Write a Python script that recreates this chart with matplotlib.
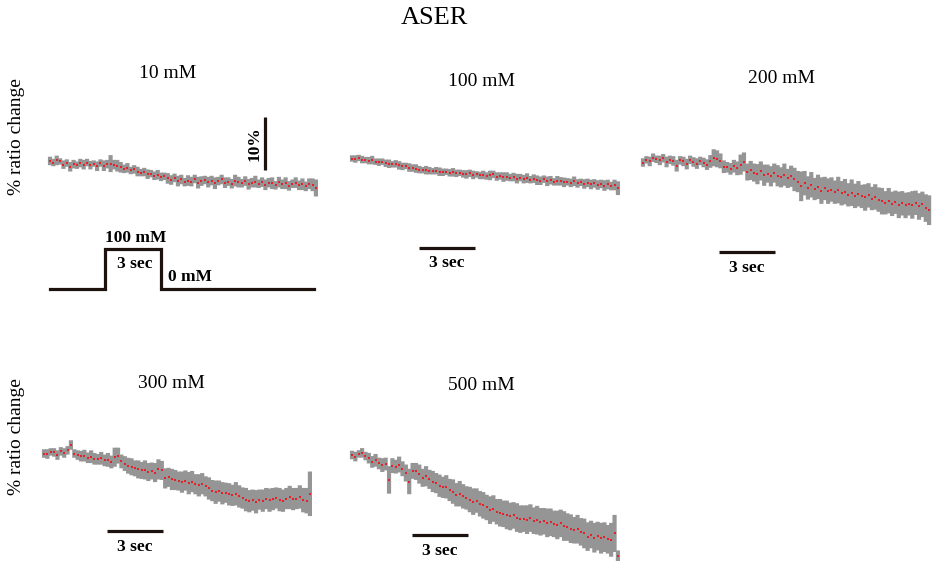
import matplotlib
matplotlib.use("Agg")
import matplotlib.pyplot as plt
import numpy as np

plt.rcParams['font.family'] = ['Liberation Serif', 'DejaVu Serif']

# ---------------- data (% ratio change, sampled every DT seconds) ----------------
DT = 0.18
titles = ["10 mM", "100 mM", "200 mM", "300 mM", "500 mM"]

mean_10 = [0.2, -0.1, 0.3, 0.1, -0.5, -0.2, -0.9, -0.4, -0.6, -0.2,
           -0.5, -0.1, -0.6, -0.3, -0.8, -0.2, -0.7, -0.4, -0.3, -0.5,
           -0.7, -1.0, -1.3, -1.1, -1.6, -1.4, -1.8, -2.0, -1.9, -2.3,
           -2.2, -2.6, -2.4, -2.8, -2.7, -3.1, -3.4, -3.0, -3.6, -3.3,
           -3.8, -3.5, -3.7, -3.2, -3.9, -3.6, -3.4, -3.8, -3.5, -4.0,
           -3.6, -3.3, -3.9, -3.7, -4.1, -3.5, -3.8, -4.0, -3.6, -4.2,
           -3.9, -3.7, -4.1, -3.8, -4.3, -3.9, -4.0, -4.4, -3.8, -4.2,
           -4.0, -4.5, -4.1, -3.9, -4.4, -4.2, -4.6, -4.1, -4.3, -4.9]
err_10 = [0.8, 0.7, 0.9, 0.6, 0.8, 0.7, 0.9, 0.8, 0.7, 0.8,
          0.9, 0.7, 0.8, 0.6, 0.9, 0.7, 1.0, 0.8, 1.6, 0.9,
          1.1, 1.0, 0.8, 0.9, 0.7, 0.8, 0.9, 0.7, 0.8, 0.9,
          0.7, 0.8, 0.9, 0.8, 0.7, 1.0, 0.9, 0.8, 1.0, 0.9,
          0.8, 1.0, 0.9, 0.8, 1.1, 0.9, 0.8, 1.0, 0.9, 1.1,
          0.8, 0.9, 1.0, 0.8, 0.9, 1.1, 1.0, 0.8, 0.9, 1.0,
          0.9, 1.1, 0.8, 0.9, 1.0, 0.9, 1.1, 0.8, 1.0, 0.9,
          1.1, 0.9, 0.8, 1.0, 0.9, 1.1, 0.9, 1.0, 1.2, 1.6]

mean_100 = [0.0, -0.1, 0.1, -0.2, -0.3, -0.4, -0.3, -0.6, -0.7, -0.6,
            -0.9, -1.0, -1.1, -1.0, -1.3, -1.5, -1.4, -1.7, -1.8, -1.9,
            -2.1, -2.2, -2.2, -2.3, -2.4, -2.3, -2.5, -2.6, -2.5, -2.7,
            -2.6, -2.8, -2.7, -2.9, -3.0, -2.8, -3.1, -3.0, -3.2, -3.1,
            -3.3, -3.2, -3.0, -3.4, -3.3, -3.5, -3.4, -3.6, -3.5, -3.8,
            -3.6, -3.9, -3.7, -4.0, -3.8, -4.1, -4.2, -3.9, -4.3, -4.1,
            -4.4, -4.2, -4.3, -4.5, -4.4, -4.6, -4.3, -4.7, -4.5, -4.8,
            -4.6, -4.9, -4.7, -5.0, -4.8, -5.1, -4.9, -5.2, -5.0, -5.6]
err_100 = [0.6, 0.7, 0.6, 0.7, 0.6, 0.7, 0.8, 0.6, 0.7, 0.6,
           0.7, 0.8, 0.6, 0.7, 0.8, 0.7, 0.6, 0.8, 0.7, 0.8,
           0.7, 0.6, 0.8, 0.7, 0.6, 0.7, 0.8, 0.7, 0.6, 0.7,
           0.8, 0.7, 0.6, 0.7, 0.8, 0.7, 0.8, 0.6, 0.7, 0.8,
           0.7, 0.9, 0.7, 0.8, 0.7, 0.9, 0.8, 0.7, 0.8, 0.9,
           0.7, 0.8, 0.9, 0.7, 0.8, 0.9, 0.8, 0.7, 0.9, 0.8,
           0.7, 0.9, 0.8, 0.9, 0.7, 0.8, 0.9, 0.8, 0.7, 0.9,
           0.8, 0.9, 0.8, 0.9, 0.8, 1.0, 0.9, 0.8, 1.0, 1.3]

mean_200 = [0.0, 0.5, 0.2, 0.9, 0.6, 0.4, 0.8, 0.1, 0.5, 0.3,
            -0.6, 0.4, 0.2, -0.3, 0.5, 0.1, -0.2, 0.3, 0.0, -0.4,
            0.2, 0.9, 0.7, 0.3, -0.8, -0.9, -1.2, -0.7, -1.1, -0.4,
            0.1, -1.8, -1.5, -1.9, -2.2, -1.6, -2.4, -2.1, -2.6, -2.0,
            -2.5, -2.8, -2.3, -3.0, -2.6, -3.2, -3.6, -4.5, -3.9, -4.8,
            -4.2, -5.0, -4.6, -5.3, -4.9, -5.4, -5.1, -5.6, -5.2, -5.8,
            -5.5, -6.1, -5.7, -6.3, -5.9, -6.4, -6.6, -6.2, -6.8, -6.5,
            -7.0, -7.3, -7.6, -7.2, -7.8, -7.5, -8.0, -7.7, -8.1, -7.8,
            -8.0, -7.6, -8.3, -7.9, -8.6, -9.0]
err_200 = [0.8, 0.7, 0.9, 0.8, 0.7, 0.9, 0.8, 1.0, 0.8, 0.9,
           1.1, 0.8, 0.9, 1.0, 0.8, 0.9, 1.0, 0.8, 0.9, 1.0,
           1.2, 1.6, 1.6, 1.4, 1.2, 1.0, 1.1, 1.2, 1.3, 1.9,
           1.8, 1.6, 1.8, 1.7, 1.9, 1.8, 2.0, 1.7, 1.9, 1.8,
           2.0, 1.9, 2.1, 1.8, 2.0, 2.2, 2.0, 2.8, 2.3, 2.2,
           2.4, 2.1, 2.3, 2.5, 2.2, 2.4, 2.3, 2.2, 2.5, 2.3,
           2.4, 2.2, 2.5, 2.3, 2.4, 2.2, 2.5, 2.3, 2.2, 2.4,
           2.3, 2.5, 2.2, 2.4, 2.3, 2.2, 2.5, 2.3, 2.4, 2.2,
           2.6, 2.3, 2.5, 2.4, 2.6, 2.8]

mean_300 = [0.0, -0.1, 0.3, 0.2, -0.3, 0.4, 0.1, 0.6, 1.6, 0.0,
            -0.3, -0.5, -0.4, -0.8, -0.6, -1.0, -1.1, -0.9, -1.3, -1.2,
            -1.6, -0.7, -0.4, -1.5, -1.9, -2.3, -2.5, -2.8, -3.0, -3.2,
            -3.1, -3.5, -3.3, -3.6, -3.0, -3.2, -4.7, -4.5, -4.9, -5.0,
            -5.2, -5.4, -5.1, -5.6, -5.3, -5.8, -6.0, -5.7, -6.2, -6.6,
            -7.0, -7.3, -7.1, -7.5, -7.4, -7.7, -7.9, -7.6, -8.1, -8.4,
            -8.7, -9.0, -8.8, -9.1, -8.7, -8.9, -8.5, -8.8, -8.6, -8.4,
            -8.7, -8.9, -8.5, -8.3, -8.6, -8.5, -8.2, -8.8, -8.9, -7.6]
err_300 = [0.8, 0.9, 0.7, 0.8, 0.9, 0.8, 0.9, 0.8, 0.9, 0.8,
           0.9, 1.0, 1.1, 1.0, 1.2, 1.1, 1.0, 1.2, 1.1, 1.3,
           1.2, 1.8, 1.5, 1.3, 1.4, 1.5, 1.6, 1.5, 1.7, 1.6,
           1.8, 1.7, 1.6, 1.8, 1.9, 1.8, 1.9, 1.8, 2.0, 1.9,
           1.8, 2.0, 1.9, 2.1, 2.0, 1.9, 2.1, 2.0, 1.9, 2.1,
           2.0, 2.2, 2.0, 2.1, 1.9, 2.1, 2.0, 2.2, 2.1, 2.0,
           2.2, 2.1, 2.0, 2.2, 1.9, 2.1, 2.0, 2.2, 2.1, 2.0,
           2.2, 2.1, 2.0, 2.2, 2.1, 2.0, 2.2, 2.3, 2.4, 4.2]

mean_500 = [0.0, -0.3, 0.2, 0.4, -0.2, -0.6, -1.3, -1.0, -1.6, -1.9,
            -1.7, -4.7, -2.0, -2.2, -1.8, -2.6, -3.4, -5.0, -3.0, -3.1,
            -3.6, -4.3, -4.0, -4.6, -5.0, -5.3, -5.8, -6.1, -6.0, -6.6,
            -6.9, -7.5, -7.3, -7.8, -8.1, -8.4, -8.8, -8.6, -9.2, -9.5,
            -9.9, -10.4, -10.1, -10.7, -10.9, -11.1, -11.3, -11.6, -11.4, -11.8,
            -12.1, -12.0, -12.2, -11.9, -12.4, -12.3, -12.6, -12.5, -12.8, -12.7,
            -13.0, -13.2, -12.9, -13.4, -13.6, -13.9, -14.2, -14.0, -14.5, -14.8,
            -15.4, -15.0, -15.6, -15.3, -15.7, -15.5, -15.9, -16.0, -14.8, -19.0]
err_500 = [0.8, 0.9, 0.7, 0.9, 0.8, 1.0, 1.1, 1.2, 1.1, 1.3,
           1.2, 2.6, 1.4, 1.3, 1.5, 1.4, 1.6, 2.4, 1.5, 1.6,
           1.8, 1.7, 1.9, 1.8, 2.0, 1.9, 2.1, 2.0, 2.2, 2.1,
           2.3, 2.2, 2.4, 2.3, 2.2, 2.4, 2.5, 2.3, 2.4, 2.5,
           2.4, 2.6, 2.5, 2.4, 2.6, 2.5, 2.7, 2.6, 2.5, 2.7,
           2.6, 2.5, 2.7, 2.6, 2.5, 2.7, 2.6, 2.5, 2.7, 2.6,
           2.5, 2.7, 2.6, 2.8, 2.6, 2.7, 2.5, 2.7, 2.6, 2.8,
           2.7, 2.6, 2.8, 2.7, 2.9, 2.8, 2.7, 3.2, 3.5, 1.0]

means = [mean_10, mean_100, mean_200, mean_300, mean_500]
errs = [err_10, err_100, err_200, err_300, err_500]

# stimulus (panel 1): time in s, concentration in mM
stim_t = [0.0, 2.95, 2.95, 5.95, 5.95, 14.1]
stim_c = [0, 0, 100, 100, 0, 0]

# ---------------- layout (pixels) ----------------
W, H = 936, 562
PXS = 18.7      # px per second
PXY = 5.3       # px per % ratio change
XLIM = (-0.3, 16.0)
YLIM = (-30, 9)
# left pixel of t=0, pixel row of 0 %
origins = [(50, 162), (352, 158.5), (643, 162.5), (44, 453.5), (352, 455)]
# 3-sec scale bars: (panel, t_start, y%) ; text below
tbars = [(1, 3.58, -16.8), (2, 4.06, -16.9), (3, 3.37, -14.6), (4, 3.2, -15.1)]
title_px = [(168, 74), (482, 81), (782, 79), (171, 383), (481, 385)]

fig = plt.figure(figsize=(W / 100, H / 100), dpi=100)

axes = []
for (x0, y0) in origins:
    left = x0 + XLIM[0] * PXS
    width = (XLIM[1] - XLIM[0]) * PXS
    top = y0 - YLIM[1] * PXY
    height = (YLIM[1] - YLIM[0]) * PXY
    ax = fig.add_axes([left / W, 1 - (top + height) / H, width / W, height / H])
    ax.set_xlim(*XLIM)
    ax.set_ylim(*YLIM)
    ax.axis('off')
    axes.append(ax)

GRAY = '#959595'
RED = '#e3222c'
DARK = '#1e120f'

for ax, m, e in zip(axes, means, errs):
    m = np.asarray(m)
    t = np.arange(len(m)) * DT
    eb = ax.errorbar(t, m, yerr=e, fmt='none', ecolor=GRAY, elinewidth=3.0,
                     capsize=0, zorder=2)
    for coll in eb.lines[2]:
        coll.set_snap(False)
        coll.set_clip_on(False)
    ax.plot(t, m, linestyle='none', marker='s', markersize=2.0,
            markeredgewidth=0, color=RED, zorder=3, clip_on=False)

for i, (xp, yp) in enumerate(title_px):
    fig.text(xp / W, 1 - yp / H, titles[i], ha='center', va='center', fontsize=14)

fig.text(434 / W, 1 - 18 / H, "ASER", ha='center', va='center', fontsize=19)

for yc in (137, 437):
    fig.text(17 / W, 1 - yc / H, "% ratio change", rotation=90,
             ha='center', va='center', fontsize=14)

# 10 % vertical scale bar (panel 1)
ax = axes[0]
ax.plot([11.5, 11.5], [-1.6, 8.4], color=DARK, lw=2.3, solid_capstyle='butt')
ax.text(10.95, 3.4, "10%", rotation=90, ha='center', va='center',
        fontsize=12.5, fontweight='bold')

# stimulus trace
low, high = -24.0, -16.5
stim_y = [low + c / 100.0 * (high - low) for c in stim_c]
ax.plot(stim_t, stim_y, color=DARK, lw=2.3, solid_joinstyle='miter')
ax.text(np.mean(stim_t[2:4]) + 0.15, high + 2.1, "100 mM", ha='center', va='center',
        fontsize=12.5, fontweight='bold')
ax.text(np.mean(stim_t[2:4]) + 0.1, high - 2.7, "3 sec", ha='center', va='center',
        fontsize=12.5, fontweight='bold')
ax.text(stim_t[4] + 0.35, low + 2.3, "0 mM", ha='left', va='center',
        fontsize=12.5, fontweight='bold')

# 3 sec time scale bars
for (p, ts, yb) in tbars:
    a = axes[p]
    a.plot([ts, ts + 3.0], [yb, yb], color=DARK, lw=2.3, solid_capstyle='butt')
    a.text(ts + 1.5, yb - 3.0, "3 sec", ha='center', va='center',
           fontsize=12.5, fontweight='bold')

fig.savefig("out.png", dpi=100)
